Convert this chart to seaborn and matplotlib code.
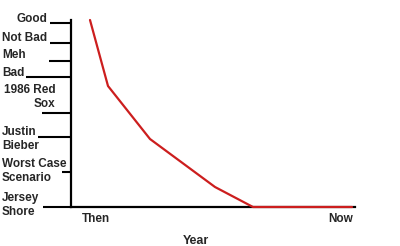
import matplotlib
matplotlib.use("Agg")
import matplotlib.pyplot as plt
import matplotlib.transforms as mtransforms
import seaborn as sns
import pandas as pd

# ---- data ----
year_pos = [19, 37, 79, 144, 182, 281]
rating = [187, 121, 68, 20, 0, 0]
x_tick_pos = [25, 270]
x_tick_labels = ["Then", "Now"]
y_tick_pos = [184, 164, 146, 130, 94, 70, 35, 0]
y_tick_labels = ["Good", "Not Bad", "Meh", "Bad", "1986 Red\nSox",
                 "Justin\nBieber", "Worst Case\nScenario", "Jersey\nShore"]

# ---- layout / style ----
tick_len_px = [21, 21, 22, 45, 29, 33, 9, 28]
label_dy_px = [4, 5, 6, 4, 16, -2, 1, 2]
label_x_px = [47, 2, 2, 2, 4, 2, 2, 2]
label_ha = ["right", "left", "left", "left", "left", "left", "left", "left"]
label_ma = ["right", "left", "left", "left", "right", "left", "left", "left"]

sns.set_style("white")
plt.rcParams["font.family"] = ["Liberation Sans", "DejaVu Sans"]

W, H, DPI = 400, 246, 100
fig = plt.figure(figsize=(W / DPI, H / DPI), dpi=DPI)
ax = fig.add_axes([71 / W, (H - 207) / H, (355 - 71) / W, (207 - 20) / H])

df = pd.DataFrame({"year": year_pos, "rating": rating})
sns.lineplot(data=df, x="year", y="rating", ax=ax, color="#cc1e1e",
             linewidth=1.6, clip_on=False, zorder=5)

ax.set_xlim(0, 284)
ax.set_ylim(0, 187)

for s in ["top", "right"]:
    ax.spines[s].set_visible(False)
for s in ["left", "bottom"]:
    ax.spines[s].set_color("black")
    ax.spines[s].set_linewidth(1.6)

ax.set_xticks(x_tick_pos)
ax.set_xticklabels(x_tick_labels, fontsize=8.5, fontweight="bold")
ax.tick_params(axis="x", length=0, pad=4)

ax.set_yticks(y_tick_pos)
ax.set_yticklabels([""] * len(y_tick_pos))
ax.tick_params(axis="y", left=True, width=1.5, color="black", direction="out")
for t, L in zip(ax.yaxis.get_major_ticks(), tick_len_px):
    t.tick1line.set_markersize(L * 72 / DPI)
    t.tick1line.set_markeredgewidth(1.5)

trans = mtransforms.blended_transform_factory(fig.transFigure, ax.transData)
for yp, lab, lx, dy, ha, ma in zip(y_tick_pos, y_tick_labels, label_x_px,
                                   label_dy_px, label_ha, label_ma):
    off = mtransforms.offset_copy(trans, fig=fig, x=0, y=dy * 72 / DPI, units="points")
    ax.text(lx / W, yp, lab, transform=off, ha=ha, va="center", multialignment=ma,
            fontsize=8.5, fontweight="bold", linespacing=1.3, clip_on=False)

ax.set_xlabel("Year", fontsize=9, fontweight="bold")
ax.set_ylabel("")
ax.xaxis.set_label_coords((196 - 71) / (355 - 71), -0.15)

fig.savefig("out.png", dpi=DPI, facecolor="white")
